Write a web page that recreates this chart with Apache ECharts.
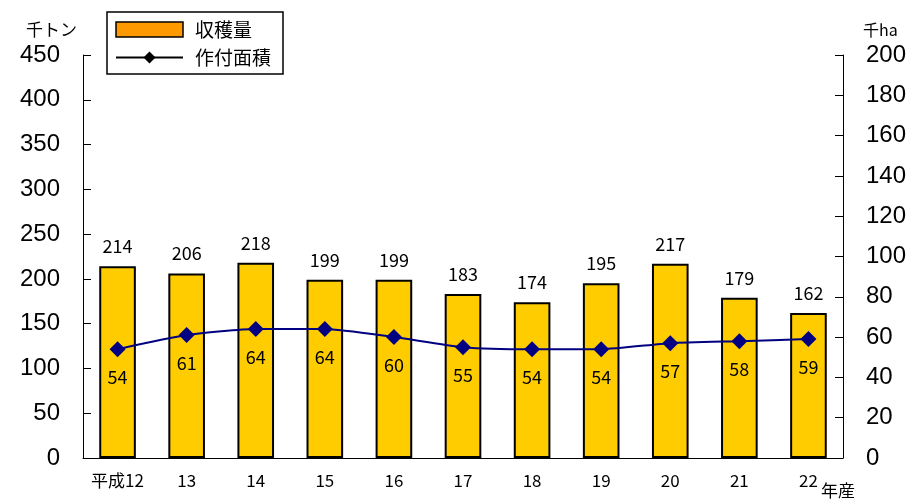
<!DOCTYPE html>
<html><head><meta charset="utf-8">
<script src="https://cdn.jsdelivr.net/npm/echarts@6/dist/echarts.min.js"></script>
<style>html,body{margin:0;padding:0;background:#fff}#c{width:913px;height:502px}</style>
</head><body><div id="c"></div>
<script>
const categories = ['平成12','13','14','15','16','17','18','19','20','21','22'];
const harvest = [214,206,218,199,199,183,174,195,217,179,162];
const area = [54,61,64,64,60,55,54,54,57,58,59];
const leftTicks = {min:0, max:450, interval:50};
const rightTicks = {min:0, max:200, interval:20};

const chart = echarts.init(document.getElementById('c'));
const jp = '"Noto Sans CJK JP", sans-serif';
const lat = '"Liberation Sans", Arial, sans-serif';
chart.setOption({
  animation:false,
  grid:{left:83,right:70,top:55,bottom:44},
  legend:{
    orient:'vertical', left:107, top:12, itemGap:9,
    padding:[8,12,7,8],
    borderColor:'#000', borderWidth:1.5, backgroundColor:'#fff',
    textStyle:{fontFamily:jp, fontSize:19, color:'#000', padding:[0,0,0,7]},
    data:[
      {name:'収穫量', icon:'rect', itemStyle:{color:'#FF9900', borderColor:'#000', borderWidth:1.5}},
      {name:'作付面積', itemStyle:{color:'#000', borderColor:'#000'}, lineStyle:{color:'#000', width:2}}
    ],
    itemWidth:67, itemHeight:15
  },
  xAxis:{
    type:'category', data:categories,
    axisLine:{lineStyle:{color:'#000',width:1}},
    axisTick:{inside:true, length:6, lineStyle:{color:'#000'}},
    axisLabel:{margin:14, fontFamily:jp, fontSize:17, color:'#000'}
  },
  yAxis:[
    {type:'value', min:leftTicks.min, max:leftTicks.max, interval:leftTicks.interval,
     name:'千トン', nameLocation:'end', nameGap:17,
     nameTextStyle:{fontFamily:jp, fontSize:17, color:'#000', align:'right', padding:[0,6,0,0]},
     axisLine:{show:true, lineStyle:{color:'#000'}},
     axisTick:{show:true, inside:true, length:8, lineStyle:{color:'#000'}},
     axisLabel:{fontFamily:lat, fontSize:24, color:'#000', margin:23},
     splitLine:{show:false}},
    {type:'value', min:rightTicks.min, max:rightTicks.max, interval:rightTicks.interval,
     name:'千ha', nameLocation:'end', nameGap:17,
     nameTextStyle:{fontFamily:jp, fontSize:16, color:'#000', align:'left', padding:[0,0,0,20]},
     axisLine:{show:true, lineStyle:{color:'#000'}},
     axisTick:{show:true, inside:true, length:8, lineStyle:{color:'#000'}},
     axisLabel:{fontFamily:lat, fontSize:24, color:'#000', margin:23},
     splitLine:{show:false}},
  ],
  series:[
    {name:'収穫量', type:'bar', data:harvest, barWidth:'53%', yAxisIndex:0,
     itemStyle:{color:'#FFCC00', borderColor:'#000', borderWidth:2},
     label:{show:true, position:'top', distance:11, fontFamily:jp, fontSize:18, color:'#000'}},
    {name:'作付面積', type:'line', data:area, yAxisIndex:1, smooth:0.2,
     symbol:'diamond', symbolSize:16,
     itemStyle:{color:'#000080'}, lineStyle:{color:'#000080', width:2},
     label:{show:true, position:'bottom', distance:11, fontFamily:jp, fontSize:18, color:'#000'}}
  ],
  graphic:[
    {type:'text', left:821, top:482, style:{text:'年産', font:'17px "Noto Sans CJK JP"', fill:'#000'}}
  ]
});
</script></body></html>
